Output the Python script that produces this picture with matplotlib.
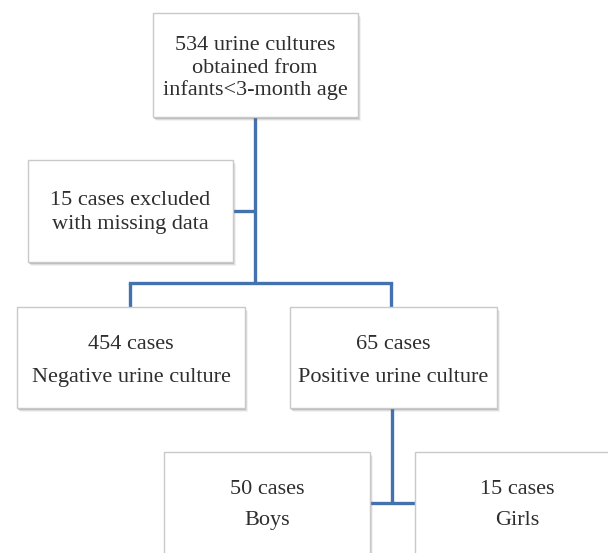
import matplotlib
matplotlib.use("Agg")
import matplotlib.pyplot as plt
from matplotlib.patches import Rectangle

# Data
counts = [534, 15, 454, 65, 50, 15]
labels = [
    ["534 urine cultures", "obtained from", "infants<3-month age"],
    ["15 cases excluded", "with missing data"],
    ["454 cases", "Negative urine culture"],
    ["65 cases", "Positive urine culture"],
    ["50 cases", "Boys"],
    ["15 cases", "Girls"],
]

# Layout (pixel coords: x0, y0, x1, y1)
boxes = [
    (153, 13, 358, 117),
    (28, 160, 233, 262),
    (17, 307, 245, 408),
    (290, 307, 497, 408),
    (164, 452, 370, 560),
    (415, 452, 615, 560),
]
line_ys = [
    [43, 66, 88],
    [198, 222],
    [342, 375],
    [342, 375],
    [487, 518],
    [487, 518],
]
text_x = [255, 130, 131, 393, 267, 517]

W, H = 608, 553
fig = plt.figure(figsize=(W / 100, H / 100), dpi=100)
ax = fig.add_axes([0, 0, 1, 1])
ax.set_xlim(0, W)
ax.set_ylim(H, 0)
ax.axis("off")

line_c = "#4472b0"
lw = 2.4

# connectors
ax.plot([255, 255], [117, 283], color=line_c, lw=lw, solid_capstyle="butt", zorder=1)
ax.plot([233, 255], [211, 211], color=line_c, lw=lw, solid_capstyle="butt", zorder=1)
ax.plot([130, 391], [283, 283], color=line_c, lw=lw, solid_capstyle="projecting", zorder=1)
ax.plot([130, 130], [283, 307], color=line_c, lw=lw, solid_capstyle="butt", zorder=1)
ax.plot([391, 391], [283, 307], color=line_c, lw=lw, solid_capstyle="butt", zorder=1)
ax.plot([392, 392], [408, 503], color=line_c, lw=lw, solid_capstyle="butt", zorder=1)
ax.plot([370, 415], [503, 503], color=line_c, lw=lw, solid_capstyle="butt", zorder=1)

for (x0, y0, x1, y1), lab, ys, tx in zip(boxes, labels, line_ys, text_x):
    # shadow
    for k, a in enumerate([0.25, 0.15, 0.08]):
        ax.add_patch(Rectangle((x0 + 1 + k, y0 + 2 + k), x1 - x0, y1 - y0,
                               facecolor="#606060", edgecolor="none", alpha=a, zorder=2))
    ax.add_patch(Rectangle((x0, y0), x1 - x0, y1 - y0, facecolor="white",
                           edgecolor="#c9c9c9", lw=1.0, zorder=3))
    for line, y in zip(lab, ys):
        ax.text(tx, y + 2.5, line, ha="center", va="center", family="Liberation Serif",
                fontsize=16, color="#2e2e2e", zorder=4)

fig.savefig("out.png", dpi=100, facecolor="white")
